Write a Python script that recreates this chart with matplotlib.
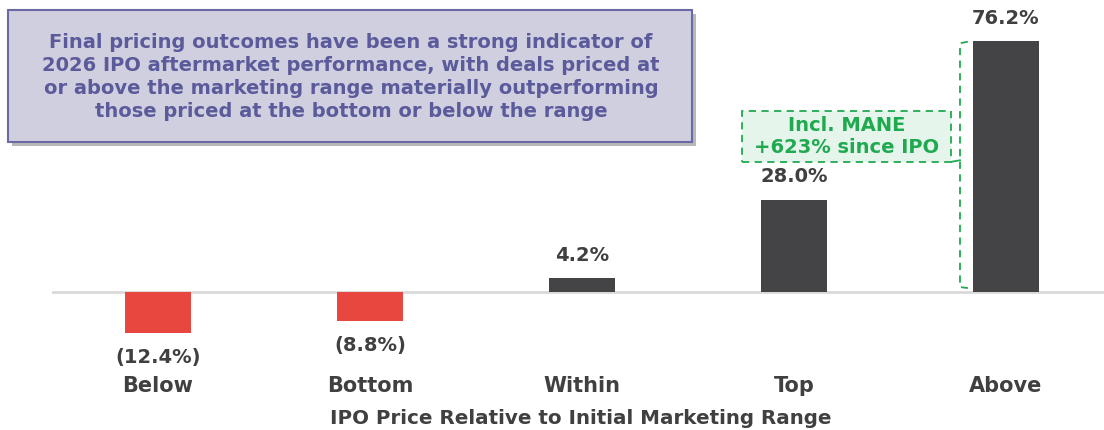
import matplotlib.pyplot as plt
from matplotlib.patches import Rectangle
from matplotlib.lines import Line2D

categories = ["Below", "Bottom", "Within", "Top", "Above"]
returns = [-12.4, -8.8, 4.2, 28.0, 76.2]
labels = ["(12.4%)", "(8.8%)", "4.2%", "28.0%", "76.2%"]

DARK = "#444446"
RED = "#e8473f"
GREEN = "#1faa4f"
TXT = "#404040"
PURPLE = "#5b5a9a"

plt.rcParams["font.family"] = ["DejaVu Sans"]

W, H = 1104, 430
fig = plt.figure(figsize=(W / 100, H / 100), dpi=100)
ax = fig.add_axes([52 / W, (H - 340) / H, 1060 / W, 340 / H])

colors = [RED if v < 0 else DARK for v in returns]
ax.bar(range(len(categories)), returns, width=0.316, color=colors, zorder=2)
ax.axhline(0, color="#d9d9d9", lw=2, zorder=1)

for i, (v, lab) in enumerate(zip(returns, labels)):
    dy = 16.5 if v >= 0 else -18
    ax.annotate(lab, (i, v), xytext=(0, dy), textcoords="offset points",
                ha="center", va="center", fontsize=14, fontweight="bold", color=TXT)

ax.set_xlim(-0.5, 4.5)
ax.set_ylim(-14.57, 88.64)
ax.axis("off")

# category labels and axis title
for i, c in enumerate(categories):
    ax.annotate(c, (i, 0), xytext=(0, -(386 - 292) * 0.72), textcoords="offset points",
                ha="center", va="center", fontsize=15, fontweight="bold", color=TXT,
                annotation_clip=False)
fig.text(581 / W, 1 - 418 / H, "IPO Price Relative to Initial Marketing Range",
         ha="center", va="center", fontsize=14.3, fontweight="bold", color=TXT)

# MANE callout box + bracket
ax.add_patch(Rectangle((2.755, 39.5), 0.985, 15.4, facecolor="#e6f5ec", edgecolor=GREEN,
                       lw=1.3, ls=(0, (4, 3)), zorder=3))
ax.text(3.2475, 47.2, "Incl. MANE\n+623% since IPO", ha="center", va="center",
        fontsize=14, fontweight="bold", color=GREEN, linespacing=1.25, zorder=4)
ax.add_line(Line2D([3.82, 3.783, 3.783, 3.82], [76.0, 75.5, 1.5, 1.2],
                   color=GREEN, lw=1.3, ls=(0, (4, 3))))
ax.add_line(Line2D([3.74, 3.783], [39.5, 40.0], color=GREEN, lw=1.3))

# headline box with shadow
fig.patches.append(Rectangle((12 / W, 1 - 146 / H), 684 / W, 132 / H, transform=fig.transFigure,
                             facecolor="#8a8a8a", edgecolor="none", alpha=0.6, zorder=0))
fig.patches.append(Rectangle((8 / W, 1 - 142 / H), 684 / W, 132 / H, transform=fig.transFigure,
                             facecolor="#d0cfe0", edgecolor="#6b6aa5", lw=1.5, zorder=1))
fig.text(351 / W, 1 - 77 / H,
         "Final pricing outcomes have been a strong indicator of\n"
         "2026 IPO aftermarket performance, with deals priced at\n"
         "or above the marketing range materially outperforming\n"
         "those priced at the bottom or below the range",
         ha="center", va="center", fontsize=14, fontweight="bold", color=PURPLE,
         linespacing=1.27, zorder=2)

fig.savefig("out.png", dpi=100)
